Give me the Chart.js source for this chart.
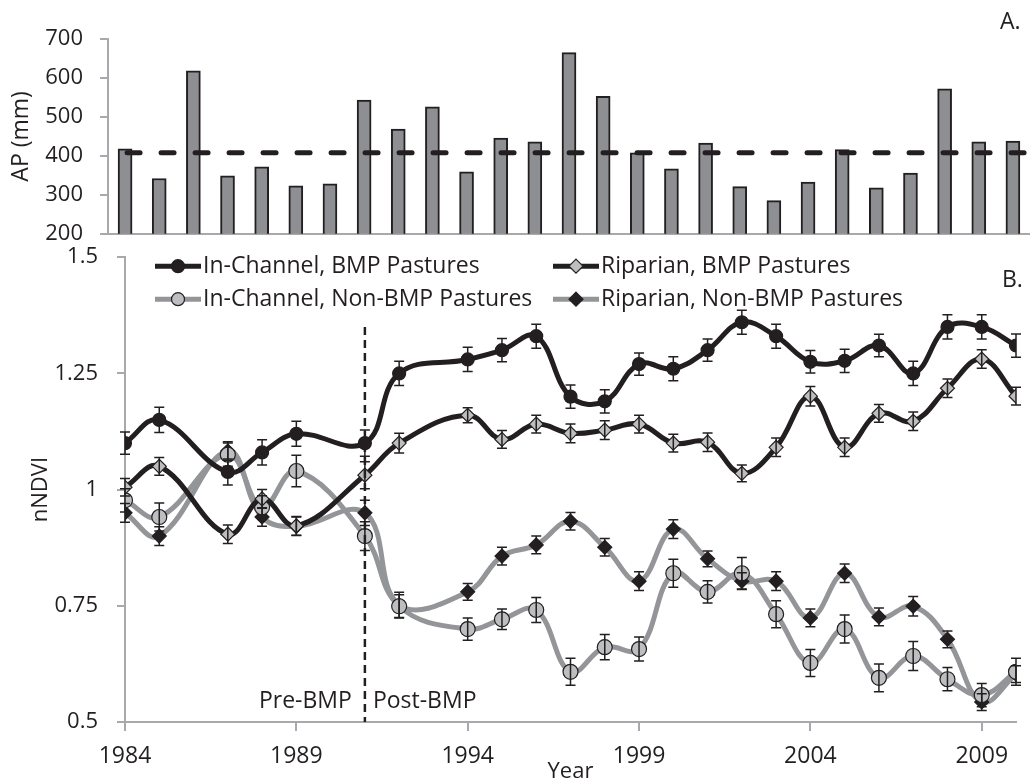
<!DOCTYPE html>
<html>
<head>
<meta charset="utf-8">
<script src="https://cdn.jsdelivr.net/npm/chart.js@4.4.0/dist/chart.umd.min.js"></script>
<style>
  body { margin: 0; background: #fff; }
  #wrap { position: relative; width: 1030px; height: 784px; }
  #apBox { position: absolute; left: 0; top: 0; width: 1030px; height: 264px; }
  #ndviBox { position: absolute; left: 0; top: 225px; width: 1030px; height: 559px; }
</style>
</head>
<body>
<div id="wrap">
  <div id="apBox"><canvas id="apChart" width="1030" height="264"></canvas></div>
  <div id="ndviBox"><canvas id="ndviChart" width="1030" height="559"></canvas></div>
</div>
<script>
// Panel A - annual precipitation
const apYears = [1984, 1985, 1986, 1987, 1988, 1989, 1990, 1991, 1992, 1993, 1994, 1995, 1996, 1997,
                 1998, 1999, 2000, 2001, 2002, 2003, 2004, 2005, 2006, 2007, 2008, 2009, 2010];
const apValues = [418, 342, 618, 349, 372, 323, 328, 543, 469, 526, 359, 446, 436, 665,
                  553, 408, 367, 433, 321, 285, 333, 416, 318, 356, 572, 436, 438];
const apMean = 408;

// Panel B - nNDVI
const ndviYears = [1984, 1985, 1987, 1988, 1989, 1991, 1992, 1994, 1995, 1996, 1997, 1998,
                   1999, 2000, 2001, 2002, 2003, 2004, 2005, 2006, 2007, 2008, 2009, 2010];
const inChannelBMP = [1.10, 1.15, 1.038, 1.08, 1.12, 1.10, 1.25, 1.28, 1.30, 1.33, 1.20, 1.19,
                      1.27, 1.26, 1.30, 1.36, 1.33, 1.275, 1.277, 1.31, 1.25, 1.35, 1.35, 1.31];
const inChannelBMPErr = [0.024, 0.027, 0.028, 0.027, 0.027, 0.028, 0.026, 0.026, 0.025, 0.026, 0.025, 0.025,
                         0.024, 0.026, 0.024, 0.026, 0.026, 0.024, 0.025, 0.024, 0.026, 0.026, 0.026, 0.025];
const riparianBMP = [1.005, 1.05, 0.904, 0.98, 0.922, 1.031, 1.10, 1.16, 1.108, 1.141, 1.121, 1.128,
                     1.141, 1.10, 1.102, 1.035, 1.091, 1.201, 1.091, 1.164, 1.147, 1.218, 1.281, 1.201];
const riparianBMPErr = [0.019, 0.019, 0.02, 0.02, 0.02, 0.029, 0.021, 0.016, 0.019, 0.019, 0.02, 0.02,
                        0.019, 0.019, 0.02, 0.018, 0.02, 0.021, 0.02, 0.019, 0.02, 0.02, 0.02, 0.019];
const inChannelNonBMP = [0.977, 0.941, 1.075, 0.962, 1.04, 0.90, 0.749, 0.70, 0.721, 0.741, 0.608, 0.661,
                         0.657, 0.82, 0.78, 0.82, 0.732, 0.627, 0.70, 0.595, 0.642, 0.592, 0.558, 0.608];
const inChannelNonBMPErr = [0.025, 0.03, 0.025, 0.025, 0.034, 0.031, 0.025, 0.024, 0.022, 0.027, 0.029, 0.027,
                            0.026, 0.03, 0.024, 0.034, 0.029, 0.029, 0.03, 0.03, 0.031, 0.025, 0.025, 0.029];
const riparianNonBMP = [0.95, 0.90, 1.083, 0.941, 0.921, 0.95, 0.752, 0.78, 0.857, 0.881, 0.932, 0.876,
                        0.803, 0.915, 0.851, 0.803, 0.803, 0.724, 0.82, 0.726, 0.749, 0.678, 0.543, 0.603];
const riparianNonBMPErr = [0.02, 0.02, 0.02, 0.02, 0.02, 0.027, 0.027, 0.018, 0.019, 0.019, 0.019, 0.019,
                           0.02, 0.02, 0.017, 0.018, 0.02, 0.019, 0.02, 0.019, 0.021, 0.018, 0.018, 0.018];
const yearTicks = [1984, 1989, 1994, 1999, 2004, 2009];
const bmpYear = 1991;

const ink = '#231f20';
const lineGray = '#939598';
const markerGray = '#bcbec0';
const axisGray = '#a7a9ac';

Chart.defaults.font.family = "'Open Sans', sans-serif";
Chart.defaults.color = ink;

function pts(xs, ys) {
    return xs.map((x, i) => ({ x: x, y: ys[i] }));
}

// dashed mean precipitation line + panel letter
const meanLinePlugin = {
    id: 'meanLine',
    afterDatasetsDraw(chart) {
        const ctx = chart.ctx;
        const y = chart.scales.y.getPixelForValue(apMean);
        ctx.save();
        ctx.strokeStyle = ink;
        ctx.lineWidth = 5;
        ctx.lineCap = 'round';
        ctx.setLineDash([13, 21]);
        ctx.beginPath();
        ctx.moveTo(chart.scales.x.getPixelForValue(0) + 2, y);
        ctx.lineTo(chart.chartArea.right - 4, y);
        ctx.stroke();
        ctx.setLineDash([]);
        ctx.font = "23px 'Open Sans', sans-serif";
        ctx.fillStyle = ink;
        ctx.textBaseline = 'middle';
        ctx.fillText('A.', 1000, 22);
        ctx.restore();
    }
};

new Chart(document.getElementById('apChart'), {
    type: 'bar',
    data: {
        labels: apYears,
        datasets: [{
            data: apValues,
            backgroundColor: '#8e8f92',
            borderColor: ink,
            borderWidth: 2,
            borderSkipped: false,
            barThickness: 14
        }]
    },
    options: {
        responsive: false,
        animation: false,
        layout: { padding: { top: 39, right: 0, left: 0, bottom: 0 } },
        plugins: { legend: { display: false }, tooltip: { enabled: false } },
        scales: {
            x: {
                type: 'category',
                offset: true,
                ticks: { display: false },
                grid: { display: true, drawOnChartArea: false, drawTicks: false },
                border: { display: true, color: axisGray, width: 2 },
                afterFit(s) { s.height = 6; }
            },
            y: {
                min: 200,
                max: 700,
                ticks: {
                    stepSize: 50,
                    padding: 17,
                    font: { size: 22 },
                    callback: v => (v % 100 === 0 ? String(v) : '')
                },
                grid: { drawOnChartArea: false, tickLength: 8, color: axisGray, lineWidth: 2 },
                border: { display: true, color: axisGray, width: 2 },
                title: { display: true, text: 'AP (mm)', font: { size: 23 }, padding: { top: 8 } },
                afterFit(s) { s.width = 108; }
            }
        }
    },
    plugins: [meanLinePlugin]
});

// error bars, BMP divider, legend
const ndviExtras = {
    id: 'ndviExtras',
    afterDatasetsDraw(chart) {
        const ctx = chart.ctx;
        const xs = chart.scales.x, ys = chart.scales.y;
        const area = chart.chartArea;
        ctx.save();
        // error bars
        ctx.strokeStyle = ink;
        ctx.lineWidth = 1.5;
        chart.data.datasets.forEach((ds, i) => {
            const meta = chart.getDatasetMeta(i);
            ds.errorBars.forEach((e, j) => {
                const x = meta.data[j].x;
                const v = ds.data[j].y;
                const top = ys.getPixelForValue(v + e);
                const bot = ys.getPixelForValue(v - e);
                ctx.beginPath();
                ctx.moveTo(x, top); ctx.lineTo(x, bot);
                ctx.moveTo(x - 5, top); ctx.lineTo(x + 5, top);
                ctx.moveTo(x - 5, bot); ctx.lineTo(x + 5, bot);
                ctx.stroke();
            });
        });
        // BMP divider
        const bx = xs.getPixelForValue(bmpYear);
        ctx.lineWidth = 2.5;
        ctx.setLineDash([8, 5]);
        ctx.beginPath();
        ctx.moveTo(bx, ys.getPixelForValue(1.35));
        ctx.lineTo(bx, ys.getPixelForValue(0.5));
        ctx.stroke();
        ctx.setLineDash([]);

        ctx.fillStyle = ink;
        ctx.font = "23px 'Open Sans', sans-serif";
        ctx.textBaseline = 'middle';
        const ty = ys.getPixelForValue(0.545);
        ctx.textAlign = 'right';
        ctx.fillText('Pre-BMP', bx - 13, ty);
        ctx.textAlign = 'left';
        ctx.fillText('Post-BMP', bx + 8, ty);
        ctx.fillText('B.', 1002, area.top + 23);

        // legend
        const rows = [area.top + 9, area.top + 42];
        const cols = [155, 553];
        chart.data.datasets.forEach(ds => {
            const cx = cols[ds.legendCol], cy = rows[ds.legendRow];
            ctx.strokeStyle = ds.borderColor;
            ctx.lineWidth = 5;
            ctx.beginPath();
            ctx.moveTo(cx, cy); ctx.lineTo(cx + 46, cy);
            ctx.stroke();
            const mx = cx + 23;
            ctx.beginPath();
            if (ds.pointStyle === 'circle') {
                ctx.arc(mx, cy, 6.5, 0, Math.PI * 2);
            } else {
                ctx.moveTo(mx, cy - 7); ctx.lineTo(mx + 7, cy);
                ctx.lineTo(mx, cy + 7); ctx.lineTo(mx - 7, cy);
                ctx.closePath();
            }
            ctx.fillStyle = ds.pointBackgroundColor;
            ctx.fill();
            ctx.strokeStyle = ink;
            ctx.lineWidth = 1.2;
            ctx.stroke();
            ctx.fillStyle = ink;
            ctx.textAlign = 'left';
            ctx.fillText(ds.label, cx + 48, cy);
        });
        ctx.restore();
    }
};

function series(label, ys, errs, color, style, fill, radius, col, row) {
    return {
        label: label,
        data: pts(ndviYears, ys),
        errorBars: errs,
        borderColor: color,
        borderWidth: 5,
        tension: 0.4,
        pointStyle: style,
        pointRadius: radius,
        pointBackgroundColor: fill,
        pointBorderColor: ink,
        pointBorderWidth: 1.2,
        legendCol: col,
        legendRow: row
    };
}

new Chart(document.getElementById('ndviChart'), {
    type: 'line',
    data: {
        datasets: [
            series('In-Channel, BMP Pastures', inChannelBMP, inChannelBMPErr, ink, 'circle', ink, 6.5, 0, 0),
            series('Riparian, BMP Pastures', riparianBMP, riparianBMPErr, ink, 'rectRot', markerGray, 7, 1, 0),
            series('In-Channel, Non-BMP Pastures', inChannelNonBMP, inChannelNonBMPErr, lineGray, 'circle', markerGray, 7.5, 0, 1),
            series('Riparian, Non-BMP Pastures', riparianNonBMP, riparianNonBMPErr, lineGray, 'rectRot', ink, 7, 1, 1)
        ]
    },
    options: {
        responsive: false,
        animation: false,
        layout: { padding: { top: 0, right: 14, left: 0, bottom: 0 } },
        plugins: { legend: { display: false }, tooltip: { enabled: false } },
        scales: {
            x: {
                type: 'linear',
                min: 1984,
                max: 2010,
                afterBuildTicks(s) { s.ticks = yearTicks.map(v => ({ value: v })); },
                ticks: { padding: 12, font: { size: 23 }, callback: v => String(v) },
                grid: { drawOnChartArea: false, tickLength: 9, color: axisGray, lineWidth: 2 },
                border: { color: axisGray, width: 2 },
                title: { display: true, text: 'Year', font: { size: 22, lineHeight: 1.1 }, padding: { top: 0, bottom: 0 } },
                afterFit(s) { s.height = 62; }
            },
            y: {
                min: 0.5,
                max: 1.5,
                ticks: { stepSize: 0.25, padding: 19, font: { size: 22 }, callback: v => String(v) },
                grid: { drawOnChartArea: false, tickLength: 8, color: axisGray, lineWidth: 2 },
                border: { color: axisGray, width: 2 },
                title: { display: true, text: 'nNDVI', font: { size: 22 }, padding: { top: 28 } },
                afterFit(s) { s.width = 125; }
            }
        }
    },
    plugins: [ndviExtras]
});
</script>
</body>
</html>
